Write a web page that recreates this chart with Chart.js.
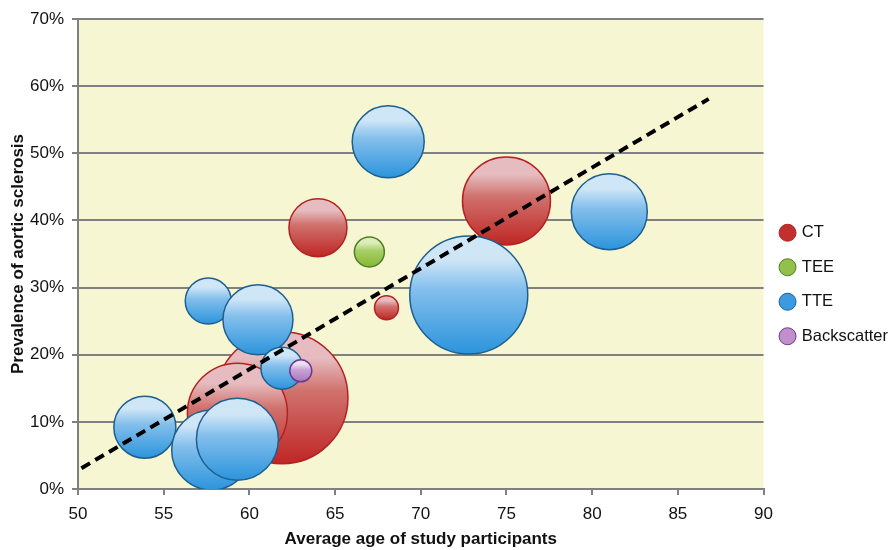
<!DOCTYPE html>
<html lang="en">
<head>
  <meta charset="UTF-8">
  <script src="https://cdn.jsdelivr.net/npm/chart.js"></script>
  <style>
    body { margin: 0; background: #ffffff; }
    #wrap { width: 889px; height: 550px; }
  </style>
  <title>Aortic sclerosis vs age</title>
</head>
<body>
  <div id="wrap"><canvas id="chart"></canvas></div>
  <script>
    // study points: average age, prevalence (%), bubble radius (study size)
    const ctAge = [61.9, 59.3, 64.0, 75.0, 68.0];
    const ctPrev = [13.6, 11.3, 38.9, 42.9, 27.0];
    const ctSize = [66, 50, 29, 44, 12];

    const teeAge = [67.0];
    const teePrev = [35.3];
    const teeSize = [15];

    const tteAge = [68.1, 81.0, 72.8, 57.6, 60.5, 61.9, 53.9, 57.8, 59.3];
    const ttePrev = [51.7, 41.3, 28.9, 28.0, 25.2, 18.0, 9.2, 5.8, 7.4];
    const tteSize = [36, 38, 59, 23, 35, 21, 31, 40, 41];

    const bsAge = [63.0];
    const bsPrev = [17.6];
    const bsSize = [11];

    // regression line end points
    const trendAge = [50.2, 86.8];
    const trendPrev = [3.1, 58.1];

    const xTicks = [50, 55, 60, 65, 70, 75, 80, 85, 90];
    const yTicks = [0, 10, 20, 30, 40, 50, 60, 70];

    function toPoints(xs, ys, rs) {
      return xs.map((x, i) => ({ x: x, y: ys[i], r: rs ? rs[i] : 0 }));
    }

    function glossy(top, mid, bottom, solid) {
      return function (ctx) {
        const chart = ctx.chart;
        if (ctx.type !== 'data' || !chart.chartArea) return solid;
        const y = chart.scales.y.getPixelForValue(ctx.raw.y);
        const r = ctx.raw.r;
        const g = chart.ctx.createLinearGradient(0, y - r, 0, y + r);
        g.addColorStop(0, top);
        g.addColorStop(0.2, top);
        g.addColorStop(0.45, mid);
        g.addColorStop(1, bottom);
        return g;
      };
    }

    const solidColors = ['#c2302d', '#93c04a', '#3a9be0', '#c08fcc'];

    const plotBg = {
      id: 'plotBg',
      beforeDraw(chart) {
        const a = chart.chartArea;
        chart.ctx.save();
        chart.ctx.fillStyle = '#f7f6d2';
        chart.ctx.fillRect(a.left, a.top, a.right - a.left, a.bottom - a.top);
        chart.ctx.restore();
      }
    };

    Chart.defaults.font.family = "'Liberation Sans', Arial, sans-serif";
    Chart.defaults.font.size = 17;
    Chart.defaults.color = '#111111';

    new Chart(document.getElementById('chart'), {
      type: 'bubble',
      data: {
        datasets: [{
          label: 'CT',
          order: 5,
          data: toPoints(ctAge, ctPrev, ctSize),
          backgroundColor: glossy('#e6bcc0', '#d0716d', '#bf2624', solidColors[0]),
          borderColor: '#b22222',
          borderWidth: 1.5
        }, {
          label: 'TEE',
          order: 4,
          data: toPoints(teeAge, teePrev, teeSize),
          backgroundColor: glossy('#dcedbc', '#a9cf69', '#84b832', solidColors[1]),
          borderColor: '#4f7f23',
          borderWidth: 1.5
        }, {
          label: 'TTE',
          order: 3,
          data: toPoints(tteAge, ttePrev, tteSize),
          backgroundColor: glossy('#cfe6f7', '#84bfec', '#2b94dc', solidColors[2]),
          borderColor: '#1d5f8e',
          borderWidth: 1.5
        }, {
          label: 'Backscatter',
          order: 2,
          data: toPoints(bsAge, bsPrev, bsSize),
          backgroundColor: glossy('#ece0f0', '#c9a2d6', '#a878bc', solidColors[3]),
          borderColor: '#6b3a8c',
          borderWidth: 1.5
        }, {
          type: 'line',
          label: 'trend',
          order: 1,
          data: toPoints(trendAge, trendPrev),
          borderColor: '#000000',
          borderWidth: 4,
          borderDash: [10, 6],
          pointRadius: 0,
          fill: false
        }]
      },
      options: {
        responsive: true,
        maintainAspectRatio: false,
        animation: false,
        layout: { autoPadding: false, padding: { top: 19, right: -9, bottom: 0, left: 0 } },
        plugins: {
          tooltip: { enabled: false },
          legend: {
            position: 'right',
            labels: {
              usePointStyle: true,
              pointStyle: 'circle',
              boxWidth: 12,
              boxHeight: 12,
              padding: 18,
              color: '#111111',
              font: { size: 16.5 },
              filter: (item) => item.text !== 'trend',
              sort: (a, b) => a.datasetIndex - b.datasetIndex,
              generateLabels(chart) {
                const items = Chart.defaults.plugins.legend.labels.generateLabels(chart);
                items.forEach((it) => {
                  if (it.datasetIndex < solidColors.length) {
                    it.fillStyle = solidColors[it.datasetIndex];
                    it.lineWidth = 1;
                  }
                });
                return items;
              }
            }
          }
        },
        scales: {
          x: {
            type: 'linear',
            min: 50,
            max: 90,
            afterBuildTicks(scale) { scale.ticks = xTicks.map(v => ({ value: v })); },
            afterFit(scale) { scale.height = 61; },
            title: {
              display: true,
              text: 'Average age of study participants',
              font: { size: 17, weight: 'bold' },
              color: '#111111',
              padding: { top: 4, bottom: 0 }
            },
            grid: { drawOnChartArea: false, color: '#808080', lineWidth: 2, tickLength: 6 },
            border: { color: '#808080', width: 2 },
            ticks: { padding: 9 }
          },
          y: {
            min: 0,
            max: 70,
            afterBuildTicks(scale) { scale.ticks = yTicks.map(v => ({ value: v })); },
            afterFit(scale) { scale.width = 78; },
            title: {
              display: true,
              text: 'Prevalence of aortic sclerosis',
              font: { size: 17, weight: 'bold' },
              color: '#111111',
              padding: { top: 8, bottom: 0 }
            },
            grid: { color: '#808080', lineWidth: 2, tickLength: 6 },
            border: { color: '#808080', width: 2 },
            ticks: { padding: 8, callback: (v) => v + '%' }
          }
        }
      },
      plugins: [plotBg]
    });
  </script>
</body>
</html>
